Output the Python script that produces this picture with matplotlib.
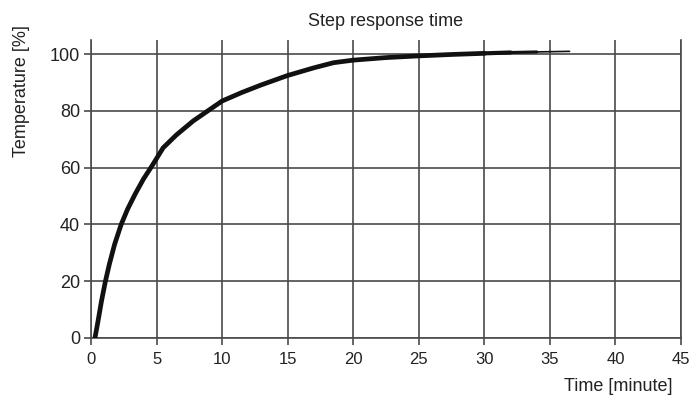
import matplotlib
matplotlib.use("Agg")
import matplotlib.pyplot as plt
from matplotlib.collections import LineCollection

# step response
time_min = [0.3, 0.5, 0.8, 1.1, 1.4, 1.8, 2.3, 2.8, 3.4, 4.0, 4.7, 5.5, 6.5, 7.8, 8.9, 10.0,
            11.5, 13.0, 15.0, 17.0, 18.5, 20.0, 22.5, 25.0, 27.5, 30.0, 32.0, 34.0, 36.5]
temp_pct = [0.0, 5.0, 13.0, 20.0, 26.0, 33.0, 40.0, 45.5, 51.0, 56.0, 61.0, 67.0, 71.5, 76.5,
            80.0, 83.5, 86.5, 89.2, 92.5, 95.2, 97.0, 97.9, 98.8, 99.4, 99.9, 100.3, 100.6,
            100.8, 101.0]

x_ticks = [0, 5, 10, 15, 20, 25, 30, 35, 40, 45]
y_ticks = [0, 20, 40, 60, 80, 100]

plt.rcParams["font.family"] = ["Liberation Sans", "DejaVu Sans"]
text_col = "#222222"
grid_col = "#4a4a4a"

fig = plt.figure(figsize=(6.9, 3.96), dpi=100)
ax = fig.add_axes([91 / 690, 1 - 338 / 396, 590 / 690, 298 / 396])

# main body of the curve, then a tail that thins out like the printed pen stroke
split = time_min.index(30.0)
ax.plot(time_min[:split + 1], temp_pct[:split + 1], color="#111111", lw=3.4,
        solid_capstyle="round", solid_joinstyle="round", zorder=3)
tail = [[(time_min[i], temp_pct[i]), (time_min[i + 1], temp_pct[i + 1])]
        for i in range(split, len(time_min) - 1)]
widths = [3.0, 2.2, 1.2]
ax.add_collection(LineCollection(tail, colors="#111111", linewidths=widths,
                                 capstyle="round", zorder=3))

ax.set_xlim(0, 45)
ax.set_ylim(0, 105)
ax.set_xticks(x_ticks)
ax.set_yticks(y_ticks)
ax.grid(True, color=grid_col, lw=1.2)
ax.set_axisbelow(True)
ax.spines["top"].set_visible(False)
for side in ("left", "bottom", "right"):
    ax.spines[side].set_color(grid_col)
    ax.spines[side].set_linewidth(1.2)
ax.tick_params(axis="both", colors=grid_col, labelcolor=text_col, length=5, width=1.2)
ax.tick_params(axis="y", labelsize=13, pad=3)
ax.tick_params(axis="x", labelsize=12, pad=5)

ax.set_title("Step response time", fontsize=13, color=text_col, pad=10)
ax.set_xlabel("Time [minute]", fontsize=13, color=text_col, ha="right")
ax.xaxis.set_label_coords(0.985, -0.135)
ax.set_ylabel("Temperature [%]", fontsize=13, color=text_col, va="center")
ax.yaxis.set_label_coords(-0.118, 0.83)

fig.savefig("out.png", dpi=100)
